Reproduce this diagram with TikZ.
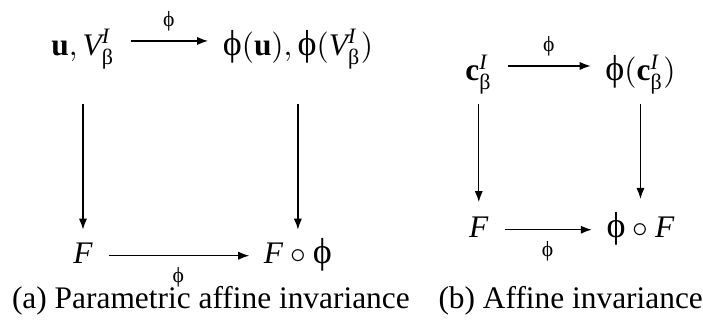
\documentclass[tikz,border=0pt]{standalone}
\usepackage{amsmath}
\usepackage{fontspec}
\setmainfont{Liberation Serif}
\usetikzlibrary{arrows.meta}

\newcommand{\gph}{\text{\scalebox{1.15}{ϕ}}}
\newcommand{\gbe}{\text{β}}

\tikzset{
  obj/.style={inner sep=0pt,anchor=base},
  objtop/.style={obj,text height=11pt,text depth=1.8pt},
  objbot/.style={obj,text height=7.5pt,text depth=2.7pt},
  map/.style={-{Latex[length=3.5pt,width=2.6pt]},shorten <=5pt,shorten >=4.5pt},
  lbl/.style={font=\fontsize{6}{7}\selectfont,inner sep=0.8pt},
}

\begin{document}
\begin{tikzpicture}[x=1cm,y=1cm,line join=round]
  \useasboundingbox (0,0) rectangle (7.87,3.63);

  % Left square: parametric affine invariance.
  \node[objtop] (uV) at (0.929,3.010) {$\mathbf{u},\mathit{V}^{\mathit{I}}_{\gbe}$};
  \node[objtop] (phiuV) at (3.335,3.010)
    {$\gph(\mathbf{u}),\gph(\mathit{V}^{\mathit{I}}_{\gbe})$};
  \node[objbot] (F) at (0.929,0.683) {$\mathit{F}$};
  \node[objbot] (Fphi) at (3.335,0.683) {$\mathit{F}\circ\gph$};
  \draw[map] (uV) -- node[lbl,above=2.2pt] {$\gph$} (phiuV);
  \draw[map] (F) -- node[lbl,below=2.7pt] {$\gph$} (Fphi);
  \draw[map,shorten <=13.5pt,shorten >=3pt] (uV) -- (F);
  \draw[map,shorten <=13.5pt,shorten >=3pt] (phiuV) -- (Fphi);
  \node[anchor=base] (capa) at (2.361,0.179)
    {(a) Parametric affine invariance};

  % Right square: affine invariance.
  \node[objtop] (c) at (5.360,2.730) {$\mathbf{c}^{\mathit{I}}_{\gbe}$};
  \node[objtop] (phic) at (7.170,2.730)
    {$\gph(\mathbf{c}^{\mathit{I}}_{\gbe})$};
  \node[objbot] (F2) at (5.360,0.974) {$\mathit{F}$};
  \node[objbot] (phiF) at (7.170,0.974) {$\gph\circ\mathit{F}$};
  \draw[map] (c) -- node[lbl,above=2.2pt] {$\gph$} (phic);
  \draw[map] (F2) -- node[lbl,below=2.7pt] {$\gph$} (phiF);
  \draw[map,shorten <=5.5pt,shorten >=3.5pt] (c) -- (F2);
  \draw[map,shorten <=5.5pt,shorten >=4.5pt] (phic) -- (phiF);
  \node[anchor=base] (capb) at (6.389,0.179) {(b) Affine invariance};
\end{tikzpicture}
\end{document}
